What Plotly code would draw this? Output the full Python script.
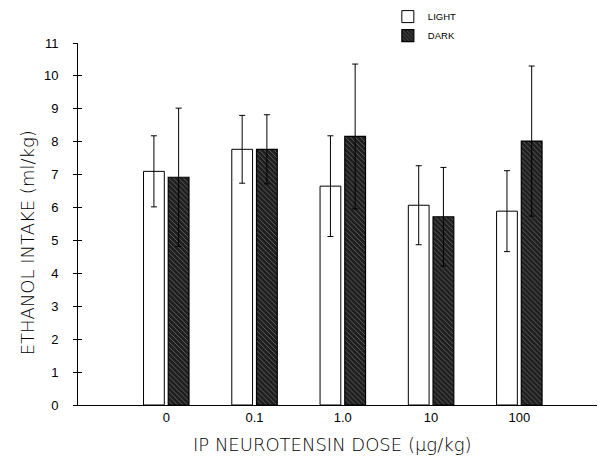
import plotly.graph_objects as go

doses = ["0", "0.1", "1.0", "10", "100"]
light_mean = [7.10, 7.77, 6.65, 6.07, 5.89]
light_se = [1.08, 1.03, 1.53, 1.20, 1.23]
dark_mean = [6.92, 7.77, 8.16, 5.72, 8.02]
dark_se = [2.10, 1.05, 2.20, 1.50, 2.28]
y_ticks = list(range(0, 12))

xpos = list(range(len(doses)))
FONT = "Liberation Sans, Arial, sans-serif"
TFONT = "DejaVu Sans, sans-serif"

fig = go.Figure()
fig.add_trace(go.Bar(
    x=xpos, y=light_mean, name="LIGHT",
    marker=dict(color="white", line=dict(color="black", width=1)),
    error_y=dict(type="data", array=light_se, color="black", thickness=1, width=3),
))
fig.add_trace(go.Bar(
    x=xpos, y=dark_mean, name="DARK",
    marker=dict(color="#1e1e1e", line=dict(color="black", width=1.2),
                pattern=dict(shape="\\", fgcolor="#d8d8d8", bgcolor="#1e1e1e",
                             size=3.5, solidity=0.2)),
    error_y=dict(type="data", array=dark_se, color="black", thickness=1, width=3),
))

# invisible helper trace on second y axis so that ticks cross the axis line
fig.add_trace(go.Scatter(x=[None], y=[None], yaxis="y2", showlegend=False, hoverinfo="skip"))

fig.update_layout(
    width=601, height=460,
    margin=dict(l=70, r=12, t=35, b=63, autoexpand=False),
    paper_bgcolor="white", plot_bgcolor="white",
    barmode="group", bargap=0.44, bargroupgap=0.16,
    font=dict(family=FONT, color="black", size=13),
    showlegend=True,
    legend=dict(x=0.597, y=1.113, xanchor="left", yanchor="top",
                bgcolor="rgba(0,0,0,0)", font=dict(size=9.5, family=FONT),
                itemwidth=30, tracegroupgap=0),
    xaxis=dict(
        range=[-1, 4.88], tickmode="array", tickvals=xpos, ticktext=doses,
        showgrid=False, zeroline=False, showline=True, linecolor="black", linewidth=1,
        ticks="", ticklabelstandoff=0, automargin=False,
    ),
    yaxis=dict(
        range=[0, 11], tickmode="array", tickvals=y_ticks,
        showgrid=False, zeroline=False, showline=True, linecolor="black", linewidth=1,
        ticks="outside", ticklen=4, tickcolor="black", ticklabelstandoff=12,
        automargin=False,
    ),
    yaxis2=dict(
        range=[0, 11], overlaying="y", side="left", tickmode="array", tickvals=y_ticks,
        showticklabels=False, ticks="inside", ticklen=4, tickcolor="black",
        showgrid=False, zeroline=False, showline=False, automargin=False,
    ),
    annotations=[
        dict(text="IP NEUROTENSIN DOSE (μg/kg)", xref="paper", yref="paper",
             x=0.489, y=-0.11, xanchor="center", yanchor="middle", showarrow=False,
             font=dict(size=18, family=TFONT, weight=200, color="black")),
        dict(text="ETHANOL INTAKE (ml/kg)", xref="paper", yref="paper",
             x=-0.098, y=0.447, xanchor="center", yanchor="middle", showarrow=False,
             textangle=-90, font=dict(size=18, family=TFONT, weight=200, color="black")),
    ],
)

fig.write_html("out.html")
